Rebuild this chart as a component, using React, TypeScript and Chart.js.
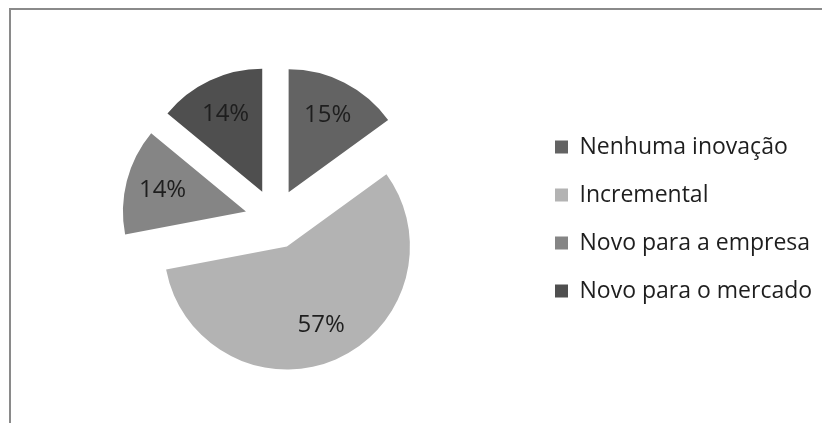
import React, { useEffect, useRef } from "react";
import { Chart, registerables } from "chart.js";

Chart.register(...registerables);

const categories = ["Nenhuma inovação", "Incremental", "Novo para a empresa", "Novo para o mercado"];
const shares = [15, 57, 14, 14];
const percentLabels = ["15%", "57%", "14%", "14%"];
const sliceColors = ["#636363", "#b3b3b3", "#858585", "#4f4f4f"];

const FONT = "'Open Sans', Lato, sans-serif";
const LEGEND_SIZE = 23;
const LABEL_SIZE = 24;
const BOX = 13;
const ROW = 48;
const LEG_PAD = ROW - LEGEND_SIZE;
const EXPLODE = 30;
const CANVAS_H = 423;
const LEGEND_LEFT = 555 - LEG_PAD;
const CENTER_X = 275;
const AREA_LEFT = 2 * CENTER_X - LEGEND_LEFT;

function explodeVector(arc: any) {
  const p = arc.getProps(["startAngle", "endAngle"], true);
  const mid = (p.startAngle + p.endAngle) / 2;
  return { dx: Math.cos(mid) * EXPLODE, dy: Math.sin(mid) * EXPLODE, mid };
}

const explodePlugin = {
  id: "explodedSlices",
  beforeDatasetDraw(chart: any, args: any) {
    const ctx = chart.ctx;
    args.meta.data.forEach((arc: any) => {
      const v = explodeVector(arc);
      ctx.save();
      ctx.translate(v.dx, v.dy);
      arc.draw(ctx);
      ctx.restore();
    });
    return false;
  },
  afterDatasetsDraw(chart: any) {
    const meta = chart.getDatasetMeta(0);
    const ctx = chart.ctx;
    ctx.save();
    ctx.font = `${LABEL_SIZE}px ${FONT}`;
    ctx.fillStyle = "#1e1e1e";
    ctx.textAlign = "center";
    ctx.textBaseline = "middle";
    meta.data.forEach((arc: any, i: number) => {
      const p = arc.getProps(["x", "y", "outerRadius"], true);
      const v = explodeVector(arc);
      const d = EXPLODE + p.outerRadius * 0.7;
      ctx.fillText(percentLabels[i], p.x + Math.cos(v.mid) * d, p.y + Math.sin(v.mid) * d);
    });
    ctx.restore();
  },
};

export default function App() {
  const ref = useRef<HTMLCanvasElement | null>(null);

  useEffect(() => {
    const canvas = ref.current;
    if (!canvas) return;
    const m = document.createElement("canvas").getContext("2d")!;
    m.font = `${LEGEND_SIZE}px ${FONT}`;
    const maxW = Math.max(...categories.map((c) => m.measureText(c).width));
    const legendW = LEG_PAD + BOX + LEGEND_SIZE / 2 + maxW + 10;
    const canvasW = Math.max(822, Math.ceil(LEGEND_LEFT + legendW));
    const padRight = canvasW - LEGEND_LEFT - legendW;
    canvas.width = canvasW;
    canvas.height = CANVAS_H;
    canvas.style.width = canvasW + "px";
    canvas.style.height = CANVAS_H + "px";

    const chart = new Chart(canvas, {
      type: "pie",
      data: {
        labels: categories,
        datasets: [
          {
            data: shares,
            backgroundColor: sliceColors,
            borderWidth: 0,
            offset: 0,
            hoverOffset: 0,
          },
        ],
      },
      options: {
        responsive: false,
        maintainAspectRatio: false,
        animation: false,
        layout: { padding: { left: AREA_LEFT, right: padRight, top: 96, bottom: 81 } },
        plugins: {
          tooltip: { enabled: false },
          legend: {
            position: "right",
            labels: {
              boxWidth: BOX,
              boxHeight: BOX,
              padding: LEG_PAD,
              color: "#1e1e1e",
              font: { size: LEGEND_SIZE, family: FONT },
            },
          },
        },
      },
      plugins: [explodePlugin],
    });
    return () => chart.destroy();
  }, []);

  return (
    <div style={{ position: "fixed", left: 0, top: 0, width: 822, height: 423, overflow: "hidden", background: "#ffffff" }}>
      <div
        style={{
          position: "absolute",
          left: 9,
          top: 8,
          width: 900,
          height: 500,
          borderTop: "2px solid #8a8a8a",
          borderLeft: "2px solid #8a8a8a",
        }}
      />
      <canvas ref={ref} style={{ position: "absolute", left: 0, top: 0 }} />
    </div>
  );
}
